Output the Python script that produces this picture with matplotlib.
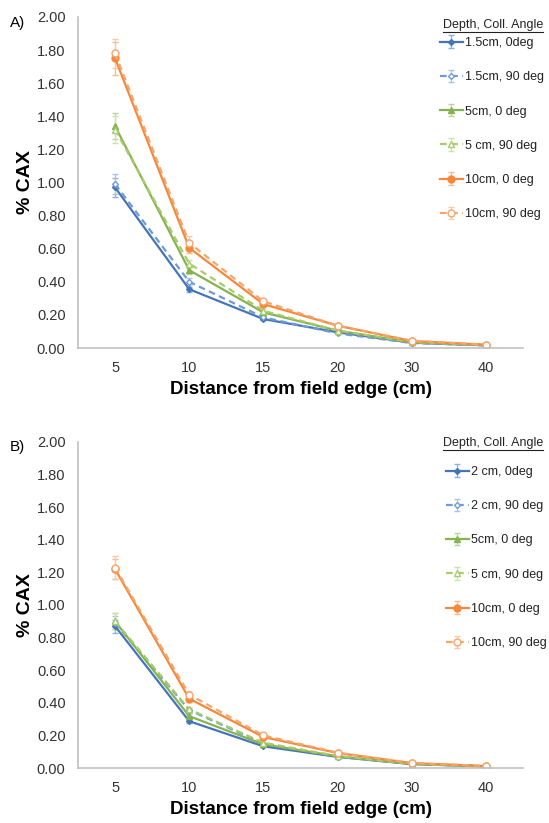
import numpy as np
import matplotlib.pyplot as plt
from matplotlib.lines import Line2D

plt.rcParams['font.family'] = ['Liberation Sans', 'DejaVu Sans']

# categorias del eje x (espaciado uniforme, como en Excel)
distances = ['5', '10', '15', '20', '30', '40']

# Panel A
labels_a = ['1.5cm, 0deg', '1.5cm, 90 deg', '5cm, 0 deg', '5 cm, 90 deg', '10cm, 0 deg', '10cm, 90 deg']
a_d15_0 = [0.97, 0.355, 0.175, 0.095, 0.032, 0.016]
a_d15_90 = [0.99, 0.40, 0.185, 0.088, 0.030, 0.016]
a_d5_0 = [1.34, 0.47, 0.215, 0.105, 0.034, 0.017]
a_d5_90 = [1.32, 0.51, 0.225, 0.105, 0.036, 0.017]
a_d10_0 = [1.75, 0.605, 0.265, 0.135, 0.042, 0.020]
a_d10_90 = [1.78, 0.635, 0.282, 0.135, 0.044, 0.020]
a_err_d15_0 = [0.06, 0.015, 0.008, 0.004, 0.002, 0.001]
a_err_d15_90 = [0.06, 0.02, 0.008, 0.004, 0.002, 0.001]
a_err_d5_0 = [0.08, 0.02, 0.01, 0.005, 0.002, 0.001]
a_err_d5_90 = [0.08, 0.02, 0.01, 0.005, 0.002, 0.001]
a_err_d10_0 = [0.10, 0.03, 0.012, 0.006, 0.002, 0.001]
a_err_d10_90 = [0.09, 0.04, 0.014, 0.006, 0.002, 0.001]

# Panel B
labels_b = ['2 cm, 0deg', '2 cm, 90 deg', '5cm, 0 deg', '5 cm, 90 deg', '10cm, 0 deg', '10cm, 90 deg']
b_d2_0 = [0.87, 0.287, 0.133, 0.068, 0.024, 0.010]
b_d2_90 = [0.89, 0.355, 0.150, 0.070, 0.025, 0.010]
b_d5_0 = [0.90, 0.318, 0.145, 0.072, 0.025, 0.010]
b_d5_90 = [0.90, 0.36, 0.155, 0.074, 0.026, 0.010]
b_d10_0 = [1.22, 0.425, 0.19, 0.092, 0.030, 0.012]
b_d10_90 = [1.23, 0.45, 0.20, 0.094, 0.031, 0.012]
b_err_d2_0 = [0.04, 0.01, 0.006, 0.003, 0.001, 0.001]
b_err_d2_90 = [0.04, 0.015, 0.006, 0.003, 0.001, 0.001]
b_err_d5_0 = [0.05, 0.015, 0.006, 0.003, 0.001, 0.001]
b_err_d5_90 = [0.05, 0.015, 0.006, 0.003, 0.001, 0.001]
b_err_d10_0 = [0.06, 0.02, 0.008, 0.004, 0.001, 0.001]
b_err_d10_90 = [0.07, 0.02, 0.008, 0.004, 0.001, 0.001]

series_a = [a_d15_0, a_d15_90, a_d5_0, a_d5_90, a_d10_0, a_d10_90]
errs_a = [a_err_d15_0, a_err_d15_90, a_err_d5_0, a_err_d5_90, a_err_d10_0, a_err_d10_90]
series_b = [b_d2_0, b_d2_90, b_d5_0, b_d5_90, b_d10_0, b_d10_90]
errs_b = [b_err_d2_0, b_err_d2_90, b_err_d5_0, b_err_d5_90, b_err_d10_0, b_err_d10_90]

# estilos
colors = ['#4575b9', '#6f9ad6', '#86b34f', '#a6cc6c', '#f5883a', '#f8a56c']
ecolors = ['#8fb0dd', '#a9c4e8', '#b9d69a', '#cbe3ac', '#f8b98a', '#fbcaa5']
styles = ['-', '--', '-', '--', '-', '--']
markers = ['D', 'D', '^', '^', 'o', 'o']
msizes = [3, 3, 4.5, 4.5, 5, 5]
filled = [True, False, True, False, True, False]

fig = plt.figure(figsize=(5.49, 8.23), dpi=100)
W, H = 549, 823


def make_axes(top_px, bottom_px):
    left, right = 78, 523
    return fig.add_axes([left / W, 1 - bottom_px / H, (right - left) / W, (bottom_px - top_px) / H])


def draw_panel(ax, series, errs, labels, leg_x, leg_y, title_y, letter, letter_y):
    x = np.arange(len(distances))
    for i, (y, e) in enumerate(zip(series, errs)):
        mfc = colors[i] if filled[i] else 'white'
        ax.errorbar(x, y, yerr=e, color=colors[i], ls=styles[i], lw=1.6,
                    marker=markers[i], ms=msizes[i], mfc=mfc, mec=colors[i], mew=1,
                    ecolor=ecolors[i], elinewidth=0.9, capsize=2, capthick=0.9,
                    dashes=(3, 2) if styles[i] == '--' else (None, None),
                    label=labels[i])
    ax.set_xlim(-0.5, 5.5)
    ax.set_ylim(0, 2.0)
    ax.set_yticks(np.arange(0, 2.01, 0.2))
    ax.set_yticklabels([f'{v:.2f}' for v in np.arange(0, 2.01, 0.2)])
    ax.set_xticks(x)
    ax.set_xticklabels(distances)
    ax.tick_params(length=0, labelsize=10.5, colors='#333333', pad=9)
    ax.tick_params(axis='x', pad=9)
    for s in ['top', 'right']:
        ax.spines[s].set_visible(False)
    for s in ['left', 'bottom']:
        ax.spines[s].set_color('#c0c0c0')
        ax.spines[s].set_linewidth(1.2)
    ax.set_ylabel('% CAX', fontsize=14, fontweight='bold', labelpad=2)
    ax.set_xlabel('Distance from field edge (cm)', fontsize=13.5, fontweight='bold', labelpad=5)

    leg = ax.legend(loc='upper left', bbox_to_anchor=(leg_x / W, 1 - leg_y / H),
                    bbox_transform=fig.transFigure, frameon=False, fontsize=9,
                    labelspacing=1.78, handlelength=1.8, handletextpad=0.2,
                    borderpad=0, borderaxespad=0)
    for t in leg.get_texts():
        t.set_color('#222222')

    t = fig.text(443 / W, 1 - title_y / H, 'Depth, Coll. Angle', fontsize=9,
                 color='#222222', ha='left', va='center')
    fig.canvas.draw()
    bb = t.get_window_extent().transformed(fig.transFigure.inverted())
    fig.add_artist(Line2D([bb.x0, bb.x1], [bb.y0 - 0.001, bb.y0 - 0.001],
                          transform=fig.transFigure, color='#222222', lw=0.8))
    fig.text(10 / W, 1 - letter_y / H, letter, fontsize=11, ha='left', va='center')


ax_a = make_axes(17, 348)
draw_panel(ax_a, series_a, errs_a, labels_a, 440, 37, 25, 'A)', 23)

ax_b = make_axes(442, 768)
draw_panel(ax_b, series_b, errs_b, labels_b, 446, 466, 443, 'B)', 447)

fig.savefig('out.png', dpi=100)
